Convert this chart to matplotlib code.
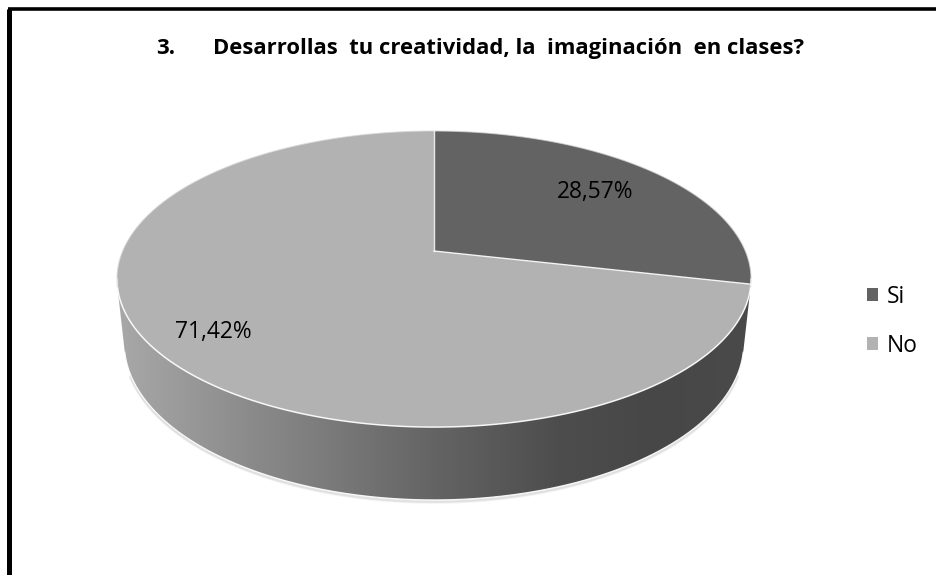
import numpy as np
import matplotlib.pyplot as plt
from matplotlib.patches import Polygon, Patch
from matplotlib.colors import LinearSegmentedColormap

# data
labels = ['Si', 'No']
values = [28.57, 71.42]
pct_labels = ['28,57%', '71,42%']
colors = ['#636363', '#b2b2b2']
title_num = '3.'
title_txt = 'Desarrollas  tu creatividad, la  imaginación  en clases?'

plt.rcParams['font.family'] = ['Open Sans', 'DejaVu Sans']

# 3d pie view (pixels)
CX, CY = 434, 251
SIN, COS = 0.4585, 0.8887
D, F, H = 4.692, 1460.7, 0.234


def proj(th, r=1.0, z=0.0):
    t = np.radians(th)
    u = r * np.sin(t)
    v = r * np.cos(t)
    depth = D + v * COS - z * SIN
    return CX + F * u / depth, CY - F * (v * SIN + z * COS) / depth


fig = plt.figure(figsize=(9.37, 5.75), dpi=100)
ax = fig.add_axes([0, 0, 1, 1])
ax.set_xlim(0, 937)
ax.set_ylim(575, 0)
ax.axis('off')

fracs = np.array(values) / sum(values)
edges = np.concatenate([[0], np.cumsum(fracs) * 360])
edges[-1] = 360

# visible part of the rim
vis = np.degrees(np.arccos(-1 / (D * COS)))
vis_lo, vis_hi = vis, 360 - vis

# soft shadow under the rim
th = np.linspace(vis_lo + 8, vis_hi - 8, 300)
bx, by = proj(th, 1, -H)
for off, a in [(2.5, 0.12), (1.5, 0.22)]:
    ax.plot(bx, by + off, color='#a0a0a0', lw=2, alpha=a, zorder=1,
            solid_capstyle='round')

side_cmap = LinearSegmentedColormap.from_list(
    'side', [(0, '#a8a8a8'), (0.2, '#8c8c8c'), (0.33, '#7b7b7b'),
             (0.5, '#646464'), (0.7, '#4d4d4d'), (0.85, '#474747'),
             (1, '#4a4a4a')])

for i in range(len(values)):
    lo = max(edges[i], vis_lo)
    hi = min(edges[i + 1], vis_hi)
    if hi <= lo:
        continue
    th = np.linspace(lo, hi, 300)
    tx, ty = proj(th, 1, 0)
    bx, by = proj(th[::-1], 1, -H)
    side = Polygon(np.column_stack([np.r_[tx, bx], np.r_[ty, by]]),
                   facecolor='none', edgecolor='none', zorder=2)
    ax.add_patch(side)
    grad = np.linspace(0, 1, 400).reshape(1, -1)
    im = ax.imshow(grad, cmap=side_cmap, aspect='auto', zorder=2,
                   extent=(proj(vis_hi)[0], proj(vis_lo)[0], 510, 250))
    im.set_clip_path(side)

# top face
for i in range(len(values)):
    th = np.linspace(edges[i], edges[i + 1], 400)
    x, y = proj(th)
    pts = np.column_stack([np.r_[CX, x], np.r_[CY, y]])
    ax.add_patch(Polygon(pts, facecolor=colors[i], edgecolor='none', zorder=3))

# light edges
th = np.linspace(vis_lo - 3, vis_hi + 3, 300)
ax.plot(*proj(th), color='white', lw=1.1, alpha=0.9, zorder=4)
th = np.linspace(vis_lo, vis_hi, 300)
ax.plot(*proj(th, 1, -H), color='white', lw=0.9, alpha=0.9, zorder=4)
th = np.linspace(vis_hi, vis_lo + 360, 300)
ax.plot(*proj(th), color='#d8d8d8', lw=0.8, alpha=0.7, zorder=4)
for e in edges[:-1]:
    ex, ey = proj(e)
    ax.plot([CX, ex], [CY, ey], color='white', lw=1.0, alpha=0.85, zorder=4)

# data labels
label_r = [0.72, 0.82]
for i in range(len(values)):
    mid = (edges[i] + edges[i + 1]) / 2
    lx, ly = proj(mid, label_r[i])
    ax.text(lx, ly, pct_labels[i], ha='center', va='center',
            fontsize=16.4, color='black', zorder=5)

# title
ax.text(156, 54, title_num, fontsize=16, fontweight='bold', va='baseline',
        ha='left')
ax.text(213, 54, title_txt, fontsize=15.8, fontweight='bold', va='baseline',
        ha='left')

# legend
handles = [Patch(facecolor=c, edgecolor='none') for c in colors]
ax.legend(handles, labels, loc='upper left', bbox_to_anchor=(0.925, 0.505),
          frameon=False, fontsize=16.4, handlelength=0.5, handleheight=0.5,
          handletextpad=0.4, labelspacing=1.1, borderpad=0, borderaxespad=0)

# frame
ax.plot([9.5, 9.5], [575, 9], color='black', lw=3.6, solid_capstyle='butt')
ax.plot([7.7, 937], [9.2, 9.2], color='black', lw=2.6, solid_capstyle='butt')

fig.savefig('out.png', dpi=100)
